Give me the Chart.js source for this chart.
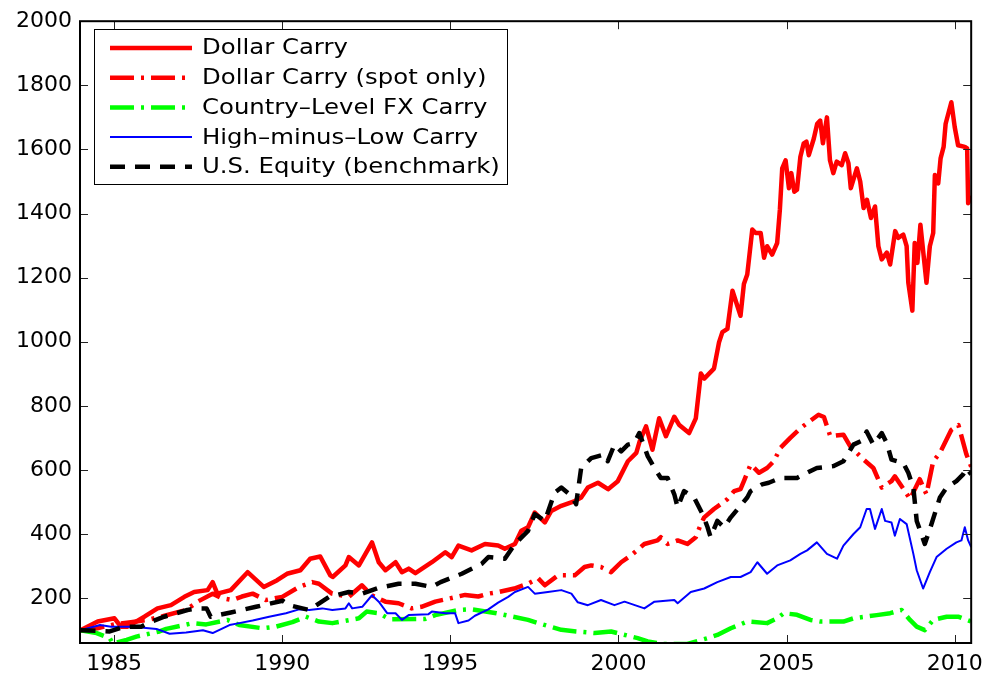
<!DOCTYPE html>
<html>
<head>
<meta charset="utf-8">
<script src="https://cdn.jsdelivr.net/npm/chart.js@4.4.0/dist/chart.umd.min.js"></script>
<style>
  html, body { margin: 0; padding: 0; background: #fff; }
  #wrap { width: 991px; height: 679px; }
</style>
</head>
<body>
<div id="wrap"><canvas id="chart" width="991" height="679"></canvas></div>
<script>
// Axis ticks
const xTicks = [1985, 1990, 1995, 2000, 2005, 2010];
const yTicks = [200, 400, 600, 800, 1000, 1200, 1400, 1600, 1800, 2000];

// Dollar Carry
const dollarCarryX = [1984.00,1984.51,1985.01,1985.20,1985.40,1985.90,1986.29,1986.69,1987.09,1987.38,1987.78,1987.93,1988.07,1988.47,1988.97,1989.45,1989.85,1990.14,1990.54,1990.83,1991.13,1991.43,1991.50,1991.88,1991.98,1992.28,1992.67,1992.87,1993.07,1993.37,1993.56,1993.76,1993.96,1994.45,1994.85,1995.04,1995.24,1995.63,1996.03,1996.42,1996.62,1996.92,1997.11,1997.31,1997.51,1997.81,1998.00,1998.30,1998.70,1998.89,1999.09,1999.39,1999.69,1999.98,2000.28,2000.53,2000.63,2000.82,2001.01,2001.21,2001.41,2001.66,2001.80,2002.10,2002.30,2002.45,2002.55,2002.84,2002.99,2003.09,2003.24,2003.39,2003.63,2003.73,2003.83,2003.98,2004.08,2004.23,2004.33,2004.42,2004.57,2004.72,2004.80,2004.87,2004.97,2005.07,2005.14,2005.23,2005.31,2005.41,2005.51,2005.59,2005.66,2005.81,2005.91,2006.00,2006.08,2006.20,2006.29,2006.39,2006.49,2006.64,2006.74,2006.84,2006.91,2007.09,2007.19,2007.29,2007.39,2007.51,2007.63,2007.73,2007.83,2007.98,2008.08,2008.23,2008.32,2008.47,2008.57,2008.62,2008.74,2008.81,2008.89,2008.98,2009.16,2009.26,2009.36,2009.41,2009.51,2009.58,2009.67,2009.73,2009.90,2010.00,2010.10,2010.30,2010.37,2010.40,2010.49];
const dollarCarryY = [100,127,137,111,111,142,168,178,204,219,225,250,214,225,281,235,256,276,287,323,330,271,266,302,328,302,374,312,287,312,281,292,278,312,343,328,364,349,369,364,354,369,410,421,467,436,472,488,503,514,545,560,540,565,627,653,689,736,663,761,705,766,741,715,761,901,885,916,998,1030,1040,1159,1081,1180,1210,1350,1339,1339,1262,1298,1272,1308,1412,1541,1566,1479,1526,1468,1474,1577,1619,1624,1582,1634,1680,1690,1619,1700,1566,1526,1562,1551,1588,1557,1479,1541,1500,1417,1443,1386,1422,1298,1257,1278,1241,1345,1324,1334,1298,1184,1097,1308,1246,1365,1184,1298,1339,1520,1494,1572,1608,1680,1747,1670,1613,1608,1603,1432,1455];

// Dollar Carry (spot only)
const spotOnlyX = [1984.00,1984.50,1985.00,1985.50,1986.00,1986.50,1987.14,1987.50,1987.93,1988.20,1988.52,1988.80,1989.12,1989.51,1990.00,1990.50,1990.89,1991.09,1991.48,1991.98,1992.37,1992.66,1993.07,1993.46,1993.85,1994.14,1994.55,1994.85,1995.44,1995.83,1996.13,1996.43,1996.90,1997.31,1997.61,1997.81,1998.20,1998.70,1998.99,1999.19,1999.48,1999.78,2000.08,2000.37,2000.77,2001.16,2001.26,2001.46,2001.76,2002.05,2002.30,2002.45,2002.55,2002.84,2003.04,2003.24,2003.44,2003.63,2003.73,2003.93,2004.18,2004.42,2004.62,2004.82,2005.11,2005.41,2005.61,2005.95,2006.11,2006.30,2006.69,2006.89,2007.29,2007.58,2007.83,2008.12,2008.22,2008.52,2008.67,2008.96,2009.16,2009.36,2009.56,2009.90,2010.11,2010.35,2010.49];
const spotOnlyY = [100,106,118,125,132,145,163,190,214,200,194,205,214,194,204,235,250,245,214,204,240,209,189,184,168,173,189,196,210,205,214,219,230,245,262,240,271,271,297,302,297,281,312,333,369,380,390,369,380,369,390,431,452,478,493,509,534,540,565,617,591,606,627,669,700,730,746,772,765,705,710,674,632,606,545,565,580,534,509,571,524,627,653,725,740,648,610];

// Country-Level FX Carry
const countryX = [1984.00,1984.48,1984.87,1984.96,1985.37,1985.66,1986.35,1986.55,1987.34,1987.74,1988.37,1988.72,1989.41,1989.81,1990.30,1990.70,1991.09,1991.49,1992.28,1992.51,1992.87,1993.20,1994.25,1994.55,1995.24,1995.63,1996.37,1997.31,1997.61,1998.30,1998.74,1999.29,1999.78,2000.57,2000.87,2001.31,2002.05,2002.65,2002.94,2003.34,2003.83,2004.42,2004.72,2004.92,2005.31,2005.71,2006.00,2006.69,2006.99,2007.68,2008.08,2008.42,2008.67,2008.87,2009.11,2009.36,2009.76,2010.10,2010.49];
const countryY = [100,91,75,58,70,80,96,104,122,118,132,116,106,111,125,142,127,122,137,158,153,134,135,147,163,165,153,132,122,101,96,91,96,75,65,57,57,75,85,106,127,122,137,153,148,132,127,127,137,147,153,163,132,111,100,132,142,142,127];

// High-minus-Low Carry
const hmlX = [1984.00,1984.58,1984.91,1985.56,1986.26,1986.65,1987.14,1987.64,1987.93,1988.43,1988.72,1989.12,1989.61,1990.11,1990.50,1990.80,1991.19,1991.49,1991.88,1991.98,1992.08,1992.38,1992.67,1992.87,1993.12,1993.37,1993.56,1993.76,1994.35,1994.45,1994.85,1995.14,1995.24,1995.54,1995.73,1996.13,1996.42,1996.72,1996.92,1997.31,1997.51,1997.90,1998.30,1998.60,1998.79,1999.09,1999.48,1999.88,2000.18,2000.77,2001.07,2001.66,2001.76,2002.15,2002.55,2002.94,2003.34,2003.63,2003.93,2004.13,2004.42,2004.72,2005.11,2005.41,2005.61,2005.90,2006.20,2006.50,2006.69,2006.99,2007.19,2007.38,2007.48,2007.63,2007.83,2007.93,2008.12,2008.22,2008.37,2008.57,2008.77,2008.87,2009.06,2009.26,2009.46,2009.76,2010.05,2010.20,2010.30,2010.40,2010.49];
const hmlY = [100,116,111,111,104,89,93,100,91,116,122,130,142,153,165,163,168,163,168,184,168,173,209,189,153,153,132,147,150,158,153,153,122,130,145,165,186,204,219,235,214,219,225,214,187,178,194,178,189,168,189,194,184,219,230,250,266,266,281,312,276,302,318,338,349,374,338,323,364,400,421,478,478,416,478,441,436,395,447,431,338,287,230,281,328,354,374,380,421,380,359];

// U.S. Equity (benchmark)
const equityX = [1984.00,1984.87,1985.31,1985.80,1986.00,1986.49,1987.18,1987.48,1987.75,1987.87,1988.47,1989.22,1990.01,1990.20,1990.80,1991.39,1991.98,1992.38,1992.87,1993.46,1993.96,1994.45,1994.71,1995.34,1995.93,1996.13,1996.62,1996.92,1997.31,1997.51,1997.81,1998.10,1998.30,1998.60,1998.74,1998.89,1999.19,1999.58,1999.68,1999.88,2000.08,2000.28,2000.47,2000.62,2000.87,2001.07,2001.26,2001.46,2001.66,2001.76,2001.95,2002.25,2002.50,2002.65,2002.74,2002.94,2003.14,2003.34,2003.83,2003.93,2004.27,2004.47,2004.82,2005.31,2005.51,2005.90,2006.40,2006.69,2006.99,2007.29,2007.38,2007.58,2007.83,2007.98,2008.12,2008.47,2008.62,2008.77,2008.87,2009.11,2009.31,2009.56,2009.76,2010.05,2010.25,2010.35,2010.49];
const equityY = [100,96,111,111,122,142,163,168,168,142,155,173,192,178,163,204,219,214,232,245,245,235,250,276,307,328,323,369,410,462,441,529,545,519,493,606,637,648,627,679,658,679,684,715,643,606,575,575,524,483,534,514,462,421,390,441,421,452,514,534,555,560,575,575,586,606,612,627,679,694,720,679,715,684,632,622,591,545,441,369,431,514,545,565,586,606,586];

const FONT = 'DejaVu Sans';

function pts(xs, ys) {
  return xs.map((x, i) => ({ x: x, y: ys[i] }));
}

// box round the plot with inward ticks on all four sides
const framePlugin = {
  id: 'frame',
  afterDatasetsDraw(chart) {
    const { ctx, chartArea: a, scales } = chart;
    ctx.save();
    ctx.strokeStyle = '#222';
    ctx.lineWidth = 1;
    ctx.beginPath();
    xTicks.forEach(v => {
      const px = Math.round(scales.x.getPixelForValue(v)) + 0.5;
      ctx.moveTo(px, a.bottom); ctx.lineTo(px, a.bottom - 8);
      ctx.moveTo(px, a.top); ctx.lineTo(px, a.top + 8);
    });
    yTicks.forEach(v => {
      const py = Math.round(scales.y.getPixelForValue(v)) + 0.5;
      ctx.moveTo(a.left, py); ctx.lineTo(a.left + 8, py);
      ctx.moveTo(a.right, py); ctx.lineTo(a.right - 8, py);
    });
    ctx.stroke();
    ctx.strokeStyle = '#000';
    ctx.lineWidth = 2;
    ctx.strokeRect(a.left, a.top, a.right - a.left, a.bottom - a.top);
    ctx.restore();
  }
};

// MATLAB style legend box, top left inside the axes
const legendPlugin = {
  id: 'boxLegend',
  afterDraw(chart) {
    const ctx = chart.ctx;
    const x0 = 94, y0 = 29, w = 413, h = 155;
    ctx.save();
    ctx.fillStyle = '#fff';
    ctx.fillRect(x0, y0, w, h);
    ctx.strokeStyle = '#000';
    ctx.lineWidth = 1;
    ctx.strokeRect(x0 + 0.5, y0 + 0.5, w, h);
    chart.data.datasets.forEach((ds, i) => {
      const y = 48 + i * 29.7;
      ctx.beginPath();
      ctx.setLineDash(ds.borderDash || []);
      ctx.strokeStyle = ds.borderColor;
      ctx.lineWidth = ds.borderWidth;
      ctx.moveTo(110, y);
      ctx.lineTo(192, y);
      ctx.stroke();
      ctx.setLineDash([]);
      ctx.save();
      ctx.translate(202, y);
      ctx.scale(1.16, 1);
      ctx.fillStyle = '#000';
      ctx.font = '21px "' + FONT + '"';
      ctx.textBaseline = 'middle';
      ctx.fillText(ds.label, 0, 1);
      ctx.restore();
    });
    ctx.restore();
  }
};

const dashDot = [24, 7, 3, 7];

new Chart(document.getElementById('chart'), {
  type: 'line',
  data: {
    datasets: [
      { label: 'Dollar Carry', data: pts(dollarCarryX, dollarCarryY),
        borderColor: '#ff0000', borderWidth: 4.5, order: 5 },
      { label: 'Dollar Carry (spot only)', data: pts(spotOnlyX, spotOnlyY),
        borderColor: '#ff0000', borderWidth: 4.5, borderDash: dashDot, order: 4 },
      { label: 'Country\u2013Level FX Carry', data: pts(countryX, countryY),
        borderColor: '#00ff00', borderWidth: 4.5, borderDash: dashDot, order: 3 },
      { label: 'High\u2013minus\u2013Low Carry', data: pts(hmlX, hmlY),
        borderColor: '#0000ff', borderWidth: 2, order: 2 },
      { label: 'U.S. Equity (benchmark)', data: pts(equityX, equityY),
        borderColor: '#000000', borderWidth: 4.5, borderDash: [15, 10], order: 1 }
    ]
  },
  options: {
    responsive: false,
    animation: false,
    devicePixelRatio: 1,
    layout: { padding: { top: 17, right: 16, left: 0, bottom: 0 } },
    elements: {
      point: { radius: 0 },
      line: { tension: 0, borderJoinStyle: 'round', fill: false }
    },
    datasets: { line: { clip: 0 } },
    plugins: {
      legend: { display: false },
      tooltip: { enabled: false }
    },
    scales: {
      x: {
        type: 'linear',
        min: 1983.985,
        max: 2010.49,
        grid: { display: false, drawTicks: false },
        border: { display: false },
        afterBuildTicks: s => { s.ticks = xTicks.map(v => ({ value: v })); },
        afterFit: s => { s.height = 36; },
        ticks: {
          color: '#000',
          padding: 8,
          maxRotation: 0,
          font: { family: FONT, size: 22 },
          callback: v => String(v)
        }
      },
      y: {
        min: 60,
        max: 2000,
        grid: { display: false, drawTicks: false },
        border: { display: false },
        afterBuildTicks: s => { s.ticks = yTicks.map(v => ({ value: v })); },
        afterFit: s => { s.width = 80; },
        ticks: {
          color: '#000',
          padding: 8,
          font: { family: FONT, size: 22 },
          callback: v => String(v)
        }
      }
    }
  },
  plugins: [framePlugin, legendPlugin]
});
</script>
</body>
</html>
